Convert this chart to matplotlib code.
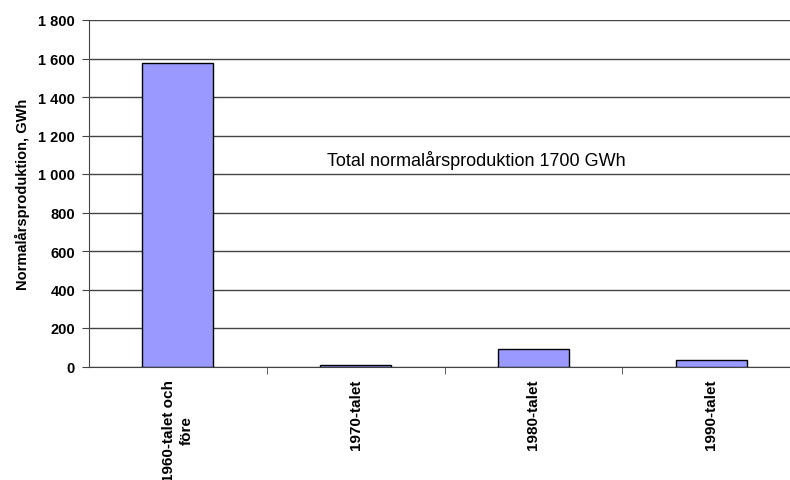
import matplotlib.pyplot as plt
from matplotlib.ticker import FuncFormatter, FixedLocator

plt.rcParams['font.family'] = ['Liberation Sans', 'DejaVu Sans']

categories = ["1960-talet och\nföre", "1970-talet", "1980-talet", "1990-talet"]
production = [1578, 8, 93, 33]
note = "Total normalårsproduktion 1700 GWh"

fig = plt.figure(figsize=(7.9, 4.81), dpi=100)
ax = fig.add_axes([89 / 790, 113.5 / 481, 711 / 790, 346.5 / 481])

x = range(len(categories))
ax.bar(x, production, width=0.4, color="#9999FF", edgecolor="black", linewidth=1.0, zorder=3)

ax.set_xlim(-0.5, 3.5)
ax.set_ylim(0, 1800)
ax.set_yticks(range(0, 1801, 200))
ax.yaxis.set_major_formatter(FuncFormatter(lambda v, p: f"{int(v):,}".replace(",", " ")))
ax.grid(axis="y", color="#444444", linewidth=1.0, zorder=0)

ax.set_xticks(list(x))
ax.set_xticklabels(categories, rotation=90, fontsize=11, fontweight="bold",
                   va="top", ha="center", multialignment="center", linespacing=1.3)
ax.tick_params(axis="x", length=0, pad=9)
ax.xaxis.set_minor_locator(FixedLocator([0.5, 1.5, 2.5]))
ax.tick_params(axis="x", which="minor", length=5, color="#444444")
ax.tick_params(axis="y", labelsize=10.5, length=5, color="#444444", pad=5)
for lab in ax.get_yticklabels():
    lab.set_fontweight("bold")

ax.set_ylabel("Normalårsproduktion, GWh", fontsize=10.5, fontweight="bold", labelpad=6)

for side in ["top", "right"]:
    ax.spines[side].set_visible(False)
ax.spines["left"].set_color("#444444")
ax.spines["bottom"].set_color("#444444")

ax.text(1.68, 1074, note, fontsize=13, ha="center", va="center")

fig.savefig("out.png", dpi=100)
